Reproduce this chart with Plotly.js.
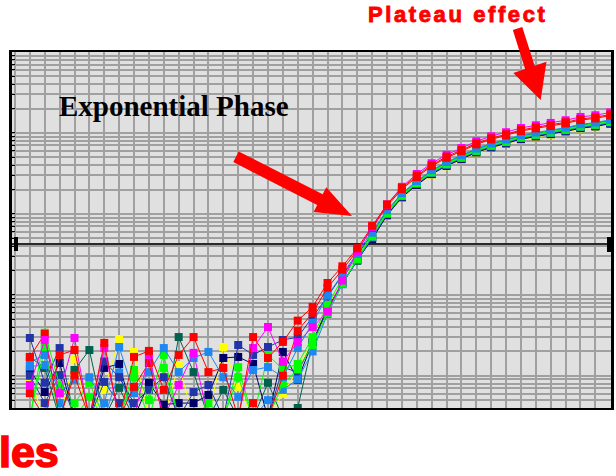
<!DOCTYPE html>
<html><head><meta charset="utf-8">
<script src="https://cdn.plot.ly/plotly-3.0.1.min.js"></script>
<style>html,body{margin:0;padding:0;background:#fff}#chart{width:616px;height:476px}</style>
</head><body><div id="chart"></div><script>
// ---- data ----
const cycles = [1,2,3,4,5,6,7,8,9,10,11,12,13,14,15,16,17,18,19,20,21,22,23,24,25,26,27,28,29,30,31,32,33,34,35,36,37,38,39,40];
const thresholdValue = 0.0425;

const yellowSeries = [0.00089,0.0003,0.0003,0.00162,0.0003,0.00067,0.00285,0.00197,0.0003,0.0003,0.00136,0.0003,0.0003,0.00227,0.00073,0.0003,0.0003,0.0006,
  0.0012,0.0028,0.0070,0.0145,0.0271,0.0500,0.095,0.158,0.225,0.306,0.387,0.467,0.566,0.653,0.731,0.826,0.892,0.953,1.029,1.130,1.186,1.285];
const tealSeries = [0.00171,0.00125,0.0003,0.00118,0.00208,0.0003,0.00071,0.0003,0.0003,0.0003,0.00301,0.00111,0.0003,0.00067,0.0003,0.0003,0.00082,0.0003,
  0.0004,0.0026,0.0068,0.0140,0.0263,0.0500,0.097,0.162,0.231,0.314,0.397,0.480,0.581,0.670,0.750,0.848,0.916,0.978,1.056,1.160,1.218,1.319];
const navySeries = [0.00118,0.00063,0.00144,0.0003,0.0003,0.00125,0.0014,0.0003,0.00082,0.00044,0.00046,0.00046,0.00058,0.00166,0.00171,0.0014,0.0003,0.00197,
  0.00089,0.0026,0.0068,0.0138,0.0271,0.0486,0.096,0.160,0.228,0.310,0.392,0.474,0.574,0.661,0.741,0.837,0.904,0.966,1.043,1.145,1.202,1.302];
const royal2Series = [0.0010,0.00046,0.00102,0.0003,0.0003,0.00084,0.00046,0.0003,0.0003,0.0003,0.0003,0.0003,0.0003,0.0003,0.0003,0.0003,0.0003,0.00128,
  0.0011,0.0026,0.0065,0.0140,0.0271,0.0514,0.099,0.164,0.234,0.318,0.402,0.486,0.589,0.679,0.760,0.859,0.927,0.991,1.070,1.175,1.233,1.336];
const sky2Series = [0.0013,0.00136,0.00046,0.0003,0.0003,0.0003,0.0011,0.0003,0.0003,0.0003,0.0003,0.0003,0.0003,0.0003,0.0003,0.0003,0.0005,0.00067,
  0.0009,0.0020,0.0058,0.0135,0.0271,0.0514,0.100,0.166,0.237,0.322,0.407,0.492,0.596,0.687,0.770,0.870,0.939,1.003,1.083,1.190,1.249,1.353];
const lime2Series = [0.0003,0.0022,0.0003,0.0003,0.00055,0.0003,0.0003,0.00096,0.0003,0.00125,0.0003,0.0003,0.0003,0.0003,0.00096,0.0003,0.0003,0.0008,
  0.0012,0.0024,0.0060,0.0138,0.0278,0.0528,0.102,0.168,0.240,0.326,0.412,0.498,0.603,0.696,0.779,0.880,0.951,1.016,1.097,1.204,1.264,1.370];
const royalSeries = [0.00293,0.00082,0.0022,0.0003,0.0003,0.0015,0.00096,0.00046,0.00067,0.00096,0.0003,0.00063,0.00077,0.0003,0.0024,0.00181,0.00227,0.00277,
  0.0030,0.0053,0.0095,0.0176,0.0308,0.0571,0.108,0.176,0.249,0.338,0.428,0.517,0.626,0.722,0.808,0.913,0.986,1.053,1.137,1.249,1.311,1.420];
const limeSeries = [0.0003,0.0034,0.00077,0.00046,0.00082,0.0003,0.0003,0.00118,0.0005,0.00181,0.0003,0.0003,0.00046,0.0003,0.00128,0.0003,0.00181,0.0012,
  0.0014,0.0030,0.0075,0.0160,0.0293,0.0550,0.106,0.174,0.246,0.334,0.422,0.510,0.618,0.713,0.798,0.902,0.974,1.041,1.124,1.234,1.296,1.404];
const skySeries = [0.00148,0.00181,0.00061,0.00089,0.00096,0.00046,0.00227,0.00061,0.00111,0.0022,0.00111,0.00166,0.00197,0.00096,0.00055,0.00118,0.00128,0.00096,
  0.0022,0.0045,0.0098,0.0180,0.0320,0.0585,0.111,0.180,0.255,0.346,0.438,0.529,0.641,0.739,0.827,0.935,1.010,1.078,1.164,1.279,1.342,1.454];
const red2Series = [0.0017,0.0033,0.0003,0.00102,0.0003,0.0003,0.0003,0.00073,0.00144,0.0003,0.0003,0.0003,0.0003,0.0003,0.0003,0.00046,0.0003,0.0010,
  0.0036,0.0060,0.0122,0.0205,0.0350,0.0670,0.125,0.202,0.286,0.389,0.493,0.596,0.722,0.833,0.933,1.054,1.139,1.216,1.313,1.442,1.514,1.640];
const magentaSeries = [0.00077,0.00277,0.00061,0.00293,0.0003,0.0022,0.0003,0.0003,0.00181,0.0003,0.00077,0.00192,0.0003,0.0003,0.0003,0.0022,0.00401,0.0015,
  0.0026,0.0040,0.0062,0.0150,0.0340,0.0690,0.131,0.216,0.311,0.422,0.537,0.650,0.789,0.910,1.020,1.152,1.244,1.329,1.435,1.576,1.655,1.792];
const redSeries = [0.00061,0.0003,0.00181,0.00208,0.0003,0.00255,0.0003,0.00171,0.00203,0.00067,0.00181,0.00301,0.00111,0.00125,0.0003,0.00301,0.00166,0.00262,
  0.0048,0.0071,0.0140,0.0225,0.0376,0.0714,0.131,0.210,0.296,0.402,0.509,0.615,0.745,0.859,0.962,1.087,1.174,1.254,1.354,1.487,1.561,1.691];

const seriesList = [
  {y: yellowSeries, c: '#ffff00'},
  {y: tealSeries, c: '#00614c'},
  {y: navySeries, c: '#000066'},
  {y: royal2Series, c: '#2235a8'},
  {y: sky2Series, c: '#1e88f0'},
  {y: lime2Series, c: '#00ff00'},
  {y: royalSeries, c: '#2235a8'},
  {y: limeSeries, c: '#00ff00'},
  {y: skySeries, c: '#1e88f0'},
  {y: red2Series, c: '#ff0000'},
  {y: magentaSeries, c: '#ff00ff'},
  {y: redSeries, c: '#ff0000'}
];

// ---- layout geometry ----
const W = 616, H = 476, M = {l: 12, r: 5, t: 52, b: 68};
const pw = W - M.l - M.r, ph = H - M.t - M.b;
const px = x => (x - M.l) / pw;
const py = y => (H - M.b - y) / ph;
function poly(pts){ return 'M' + pts.map(p => px(p[0]).toFixed(4) + ',' + py(p[1]).toFixed(4)).join(' L') + ' Z'; }

const decades = [0.0001, 0.001, 0.01, 0.1, 1];
const yTicks = [];
decades.forEach(d => { for (let k = 1; k <= 9; k++) yTicks.push(d * k); });
yTicks.push(10);

const traces = [{
  x: [-1, 41], y: [thresholdValue, thresholdValue], mode: 'lines',
  line: {color: '#2a2a2a', width: 2}, hoverinfo: 'skip'
}];
seriesList.forEach(s => traces.push({
  x: cycles, y: s.y, mode: 'lines+markers',
  line: {color: s.c, width: 1},
  marker: {symbol: 'square', size: 8, color: s.c, line: {width: 0}}
}));

const arrowExp = [[233.3,162.0],[317.2,205.0],[313.6,212.1],[352,216],[326.3,187.2],[322.7,194.3],[238.7,151.4]];
const arrowPlat = [[512.8,30.1],[525.1,68.9],[513.3,72.9],[540.7,100],[546.5,61.8],[534.6,65.8],[522.3,26.9]];

const layout = {
  width: W, height: H, margin: M,
  paper_bgcolor: '#ffffff', plot_bgcolor: '#e0e0e0',
  showlegend: false,
  xaxis: {range: [-0.2, 40.05], tick0: 0, dtick: 1, showgrid: true, gridcolor: '#a0a0a0', gridwidth: 2,
    showticklabels: false, ticks: '', zeroline: false, showline: true, linecolor: '#000', linewidth: 2, mirror: true, fixedrange: true},
  yaxis: {type: 'log', range: [Math.log10(0.0004), 1], tickmode: 'array', tickvals: yTicks, showgrid: true,
    gridcolor: '#a0a0a0', gridwidth: 2, showticklabels: false, ticks: 'inside', ticklen: 3, tickwidth: 1, tickcolor: '#000',
    zeroline: false, showline: true, linecolor: '#000', linewidth: 3, mirror: true, fixedrange: true},
  shapes: [
    {type: 'path', xref: 'paper', yref: 'paper', path: poly(arrowExp), fillcolor: '#ff0000', line: {width: 0}},
    {type: 'path', xref: 'paper', yref: 'paper', path: poly(arrowPlat), fillcolor: '#ff0000', line: {width: 0}},
    {type: 'rect', xref: 'paper', yref: 'paper', x0: px(14), x1: px(18), y0: py(251), y1: py(237), fillcolor: '#000', line: {width: 0}},
    {type: 'rect', xref: 'paper', yref: 'paper', x0: px(607), x1: px(612), y0: py(252), y1: py(237), fillcolor: '#000', line: {width: 0}}
  ],
  annotations: [
    {xref: 'paper', yref: 'paper', x: px(174), y: py(106), xanchor: 'center', yanchor: 'middle', showarrow: false,
      text: '<b>Exponential Phase</b>', font: {family: 'Liberation Serif, Times New Roman, serif', size: 29, color: '#000'}},
    {xref: 'paper', yref: 'paper', x: px(457), y: py(15), xanchor: 'center', yanchor: 'middle', showarrow: false,
      text: '<b><span style="letter-spacing:2.6px;stroke:#ff0000;stroke-width:0.9px">Plateau effect</span></b>', font: {family: 'Liberation Sans, Arial, sans-serif', size: 22, color: '#ff0000'}},
    {xref: 'paper', yref: 'paper', x: px(-3), y: py(452), xanchor: 'left', yanchor: 'middle', showarrow: false,
      text: '<b><span style="stroke:#ff0000;stroke-width:1.6px">les</span></b>', font: {family: 'Liberation Sans, Arial, sans-serif', size: 43, color: '#ff0000'}}
  ]
};
Plotly.newPlot('chart', traces, layout, {staticPlot: true, displayModeBar: false});
</script></body></html>
